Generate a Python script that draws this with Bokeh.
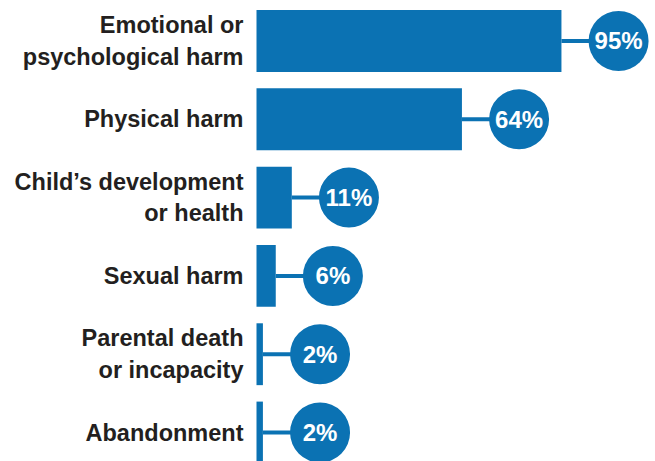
from bokeh.plotting import figure
from bokeh.models import ColumnDataSource, Range1d
from bokeh.core.properties import value
from bokeh.embed import file_html
from bokeh.resources import INLINE

categories = ["Emotional or\npsychological harm", "Physical harm", "Child\u2019s development\nor health",
              "Sexual harm", "Parental death\nor incapacity", "Abandonment"]
values = [95, 64, 11, 6, 2, 2]
value_labels = ["95%", "64%", "11%", "6%", "2%", "2%"]

BLUE = "#0B72B3"
GAP = 17.8  # data units between bar end and circle centre

n = len(categories)
ys = [n - 1 - i for i in range(n)]
src = ColumnDataSource(dict(
    y=ys, v=values, cat=categories, lab=value_labels,
    cx=[v + GAP for v in values],
    zero=[0] * n,
))

p = figure(width=655, height=461, output_backend="svg", toolbar_location=None,
           x_range=Range1d(-79.75, 124.3), y_range=Range1d(-0.37, 5.517),
           min_border=0, outline_line_color=None)
p.axis.visible = False
p.grid.visible = False

p.hbar(y="y", left=0, right="v", height=0.79, source=src, fill_color=BLUE, line_color=None)
p.segment(x0="v", y0="y", x1="cx", y1="y", source=src, line_color=BLUE, line_width=4)
p.scatter(x="cx", y="y", size=60, source=src, fill_color=BLUE, line_color=None)
p.text(x="cx", y="y", text="lab", source=src, text_color="white", text_font=value("Liberation Sans"),
       text_font_style="bold", text_font_size="24px", text_align="center", text_baseline="middle")
p.text(x="zero", y="y", text="cat", source=src, x_offset=-13, text_color="#231F20",
       text_font=value("Liberation Sans"), text_font_style="bold", text_font_size="23.5px",
       text_align="right", text_baseline="middle", text_line_height=1.22)

open("out.html", "w").write(file_html(p, INLINE))
